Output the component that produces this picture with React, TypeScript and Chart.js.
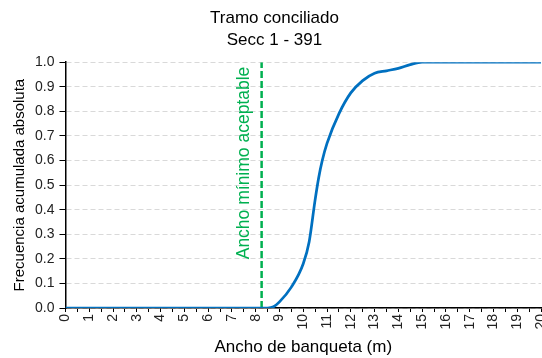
import React, { useEffect, useRef } from "react";
import { Chart, registerables } from "chart.js";

Chart.register(...registerables);

const titleLines = ["Tramo conciliado", "Secc 1 - 391"];
const xTitle = "Ancho de banqueta (m)";
const yTitle = "Frecuencia acumulada absoluta";
const thresholdLabel = "Ancho mínimo aceptable";
const thresholdX = 8.25;

const widths = [0, 8.5, 8.75, 9, 9.5, 10, 10.25, 10.5, 10.65, 10.8, 11, 11.5, 12, 12.5, 13, 13.5, 14, 14.5, 15, 20];
const cumFreq = [0, 0, 0.005, 0.025, 0.085, 0.18, 0.27, 0.44, 0.53, 0.6, 0.67, 0.79, 0.875, 0.925, 0.955, 0.965, 0.975, 0.99, 1, 1];

const FONT = "'Liberation Sans', Arial, sans-serif";

const thresholdPlugin = {
  id: "thresholdLabel",
  afterDatasetsDraw(chart: any) {
    const { ctx, scales } = chart;
    const x = scales.x.getPixelForValue(thresholdX) - 17;
    const y = scales.y.getPixelForValue(0.59);
    ctx.save();
    ctx.translate(x, y);
    ctx.rotate(-Math.PI / 2);
    ctx.fillStyle = "#00B050";
    ctx.font = "17.5px " + FONT;
    ctx.textAlign = "center";
    ctx.textBaseline = "middle";
    ctx.fillText(thresholdLabel, 0, 0);
    ctx.restore();
  },
};

export default function App() {
  const ref = useRef<HTMLCanvasElement>(null);
  useEffect(() => {
    const chart = new Chart(ref.current!, {
      type: "line",
      data: {
        datasets: [
          {
            data: widths.map((w, i) => ({ x: w, y: cumFreq[i] })),
            borderColor: "#0070C0",
            borderWidth: 2.75,
            pointRadius: 0,
            cubicInterpolationMode: "monotone",
          },
          {
            data: [
              { x: thresholdX, y: 0 },
              { x: thresholdX, y: 1 },
            ],
            borderColor: "#00B050",
            borderWidth: 2.5,
            borderDash: [7, 3],
            pointRadius: 0,
          },
        ],
      },
      options: {
        animation: false,
        responsive: true,
        maintainAspectRatio: false,
        layout: { padding: { top: 6, right: 1, left: 8, bottom: 0 } },
        plugins: {
          legend: { display: false },
          tooltip: { enabled: false },
          title: {
            display: true,
            text: titleLines,
            color: "#000",
            font: { family: FONT, size: 17, weight: "normal", lineHeight: 1.27 },
            padding: { top: 2, bottom: 11 },
          },
        },
        scales: {
          x: {
            type: "linear",
            min: 0,
            max: 20,
            afterFit(s: any) {
              s.paddingRight = 0;
            },
            ticks: {
              stepSize: 0.5,
              autoSkip: false,
              maxRotation: 90,
              minRotation: 90,
              color: "#222",
              font: { family: FONT, size: 14 },
              padding: 2,
              callback: (v: any) => (Number.isInteger(v) ? String(v) : ""),
            },
            grid: {
              drawOnChartArea: false,
              drawTicks: true,
              tickLength: 4,
              tickColor: "#000",
            },
            border: { color: "#000", width: 1.5 },
            title: {
              display: true,
              text: xTitle,
              color: "#000",
              font: { family: FONT, size: 17 },
              padding: { top: 6, bottom: 0 },
            },
          },
          y: {
            min: 0,
            max: 1,
            ticks: {
              stepSize: 0.1,
              color: "#222",
              font: { family: FONT, size: 14 },
              padding: 5,
              callback: (v: any) => Number(v).toFixed(1),
            },
            grid: {
              color: "#d9d9d9",
              tickColor: "#000",
              tickLength: 6,
              lineWidth: 1,
            },
            border: { color: "#000", width: 1.5, dash: [5, 3] },
            title: {
              display: true,
              text: yTitle,
              color: "#000",
              font: { family: FONT, size: 15 },
              padding: { top: 3, bottom: 1 },
            },
          },
        },
      },
      plugins: [thresholdPlugin],
    } as any);
    return () => chart.destroy();
  }, []);
  return (
    <div style={{ position: "fixed", left: 0, top: 0, width: 542, height: 358, background: "#fff" }}>
      <canvas ref={ref} />
    </div>
  );
}
